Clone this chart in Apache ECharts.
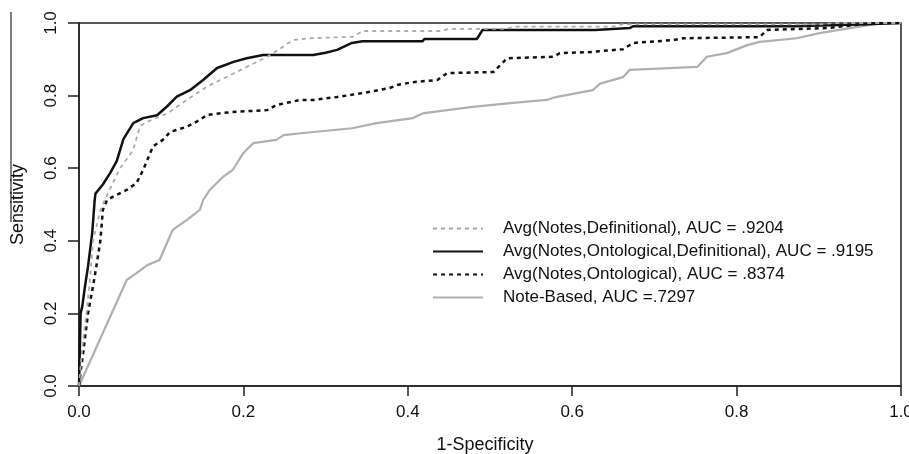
<!DOCTYPE html>
<html>
<head>
<meta charset="utf-8">
<script src="https://cdn.jsdelivr.net/npm/echarts@6/dist/echarts.min.js"></script>
<style>
html,body{margin:0;padding:0;background:#fff;}
#chart{width:909px;height:454px;}
</style>
</head>
<body>
<div id="chart"></div>
<script>
// ---- Data ----
var seriesNames = [
  'Avg(Notes,Definitional), AUC = .9204',
  'Avg(Notes,Ontological,Definitional), AUC = .9195',
  'Avg(Notes,Ontological), AUC = .8374',
  'Note-Based, AUC =.7297'
];
var xTicks = [0, 0.2, 0.4, 0.6, 0.8, 1.0];
var yTicks = [0, 0.2, 0.4, 0.6, 0.8, 1.0];

// Avg(Notes,Definitional)
var fprNotesDef = [0,0.003,0.005,0.009,0.013,0.017,0.026,0.035,0.05,0.066,0.074,0.083,0.107,0.131,0.156,0.18,0.204,0.229,0.245,0.26,0.281,0.333,0.345,0.44,0.45,0.52,0.53,0.65,0.66,0.9,0.92,1.0];
var tprNotesDef = [0,0.08,0.127,0.2,0.283,0.40,0.485,0.53,0.60,0.65,0.715,0.728,0.75,0.788,0.825,0.852,0.879,0.907,0.93,0.953,0.958,0.962,0.978,0.978,0.984,0.984,0.99,0.99,0.996,0.996,1.0,1.0];

// Avg(Notes,Ontological,Definitional)
var fprNotesOntDef = [0,0.002,0.004,0.007,0.011,0.016,0.019,0.02,0.029,0.038,0.046,0.054,0.066,0.078,0.095,0.107,0.119,0.135,0.151,0.168,0.188,0.204,0.224,0.285,0.300,0.314,0.332,0.345,0.418,0.42,0.484,0.491,0.628,0.63,0.67,0.674,0.87,0.872,0.948,0.95,1.0];
var tprNotesOntDef = [0,0.20,0.22,0.27,0.33,0.42,0.51,0.53,0.555,0.587,0.62,0.68,0.724,0.738,0.746,0.77,0.797,0.815,0.843,0.876,0.893,0.903,0.912,0.912,0.918,0.926,0.945,0.95,0.95,0.956,0.956,0.981,0.981,0.986,0.986,0.991,0.991,0.996,0.996,1.0,1.0];

// Avg(Notes,Ontological)
var fprNotesOnt = [0,0.002,0.005,0.011,0.019,0.026,0.029,0.034,0.041,0.058,0.07,0.078,0.09,0.102,0.111,0.131,0.147,0.156,0.187,0.229,0.24,0.269,0.285,0.314,0.345,0.378,0.387,0.406,0.436,0.448,0.504,0.521,0.577,0.585,0.622,0.662,0.674,0.723,0.735,0.828,0.837,0.91,0.942,0.97,1.0];
var tprNotesOnt = [0,0.04,0.09,0.2,0.30,0.40,0.485,0.512,0.521,0.54,0.559,0.595,0.66,0.678,0.70,0.714,0.733,0.747,0.755,0.76,0.774,0.788,0.788,0.796,0.807,0.821,0.829,0.837,0.843,0.862,0.865,0.903,0.907,0.917,0.92,0.928,0.945,0.953,0.958,0.961,0.981,0.986,0.994,1.0,1.0];

// Note-Based
var fprNoteBased = [0,0.058,0.07,0.083,0.098,0.107,0.114,0.131,0.147,0.151,0.159,0.175,0.187,0.2,0.212,0.24,0.249,0.273,0.332,0.362,0.406,0.418,0.448,0.479,0.528,0.569,0.58,0.625,0.634,0.662,0.67,0.752,0.764,0.788,0.813,0.828,0.873,0.901,0.938,0.978,1.0];
var tprNoteBased = [0,0.292,0.311,0.333,0.347,0.394,0.43,0.457,0.485,0.512,0.54,0.576,0.595,0.642,0.669,0.678,0.691,0.697,0.71,0.724,0.738,0.751,0.76,0.769,0.78,0.788,0.796,0.815,0.833,0.851,0.871,0.879,0.907,0.917,0.939,0.948,0.958,0.972,0.986,1.0,1.0];

// ---- Build ----
function pairs(xs, ys){ var out=[]; for(var i=0;i<xs.length;i++){ out.push([xs[i], ys[i]]); } return out; }
var FONT = '"Liberation Sans", Arial, Helvetica, sans-serif';

var chart = echarts.init(document.getElementById('chart'), null, {renderer:'canvas'});
var option = {
  animation: false,
  backgroundColor: '#ffffff',
  textStyle: {fontFamily: FONT, color: '#111'},
  grid: {left: 79, top: 23, right: 8, bottom: 68, containLabel: false, outerBoundsMode: 'none',
         show: true, borderColor: '#222', borderWidth: 1.5, backgroundColor: 'transparent'},
  legend: {
    orient: 'vertical', left: 427, top: 215, padding: 5,
    itemWidth: 50, itemHeight: 14, itemGap: 6,
    itemStyle: {opacity: 0},
    textStyle: {fontFamily: FONT, fontSize: 17, color: '#111', lineHeight: 17, padding: [0,0,0,15]},
    data: seriesNames
  },
  xAxis: {
    type: 'value', min: xTicks[0], max: xTicks[xTicks.length-1], interval: 0.2,
    name: '1-Specificity', nameLocation: 'middle', nameGap: 50,
    nameTextStyle: {fontFamily: FONT, fontSize: 18, color: '#111', padding: [0,10,0,0]},
    axisLine: {show: true, onZero: false, lineStyle: {color: '#222', width: 1.5}},
    axisTick: {show: true, length: 10, lineStyle: {color: '#222', width: 1.5}},
    axisLabel: {fontFamily: FONT, fontSize: 17, color: '#111', margin: 18, formatter: function(v){return v.toFixed(1);}},
    splitLine: {show: false}
  },
  yAxis: {
    type: 'value', min: yTicks[0], max: yTicks[yTicks.length-1], interval: 0.2,
    name: 'Sensitivity', nameLocation: 'middle', nameGap: 52, nameRotate: 90,
    nameTextStyle: {fontFamily: FONT, fontSize: 18, color: '#111'},
    axisLine: {show: true, onZero: false, lineStyle: {color: '#222', width: 1.5}},
    axisTick: {show: true, length: 11, lineStyle: {color: '#222', width: 1.5}},
    axisLabel: {fontFamily: FONT, fontSize: 17, color: '#111', margin: 19, rotate: 90, formatter: function(v){return v.toFixed(1);}},
    splitLine: {show: false}
  },
  graphic: [
    {type: 'line', shape: {x1: 11, y1: 12, x2: 11, y2: 222}, style: {stroke: '#555', lineWidth: 1.5}}
  ],
  series: [
    {name: seriesNames[0], type: 'line', symbol: 'none', z: 4, data: pairs(fprNotesDef, tprNotesDef),
     lineStyle: {color: '#aaaaaa', width: 1.8, type: [4,4]}, itemStyle: {color: '#aaaaaa'}},
    {name: seriesNames[1], type: 'line', symbol: 'none', z: 3, data: pairs(fprNotesOntDef, tprNotesOntDef),
     lineStyle: {color: '#111111', width: 2.5, type: 'solid'}, itemStyle: {color: '#111111'}},
    {name: seriesNames[2], type: 'line', symbol: 'none', z: 3, data: pairs(fprNotesOnt, tprNotesOnt),
     lineStyle: {color: '#111111', width: 2.5, type: [4,4]}, itemStyle: {color: '#111111'}},
    {name: seriesNames[3], type: 'line', symbol: 'none', z: 2, data: pairs(fprNoteBased, tprNoteBased),
     lineStyle: {color: '#b0b0b0', width: 2.2, type: 'solid'}, itemStyle: {color: '#b0b0b0'}}
  ]
};
chart.setOption(option);
</script>
</body>
</html>
